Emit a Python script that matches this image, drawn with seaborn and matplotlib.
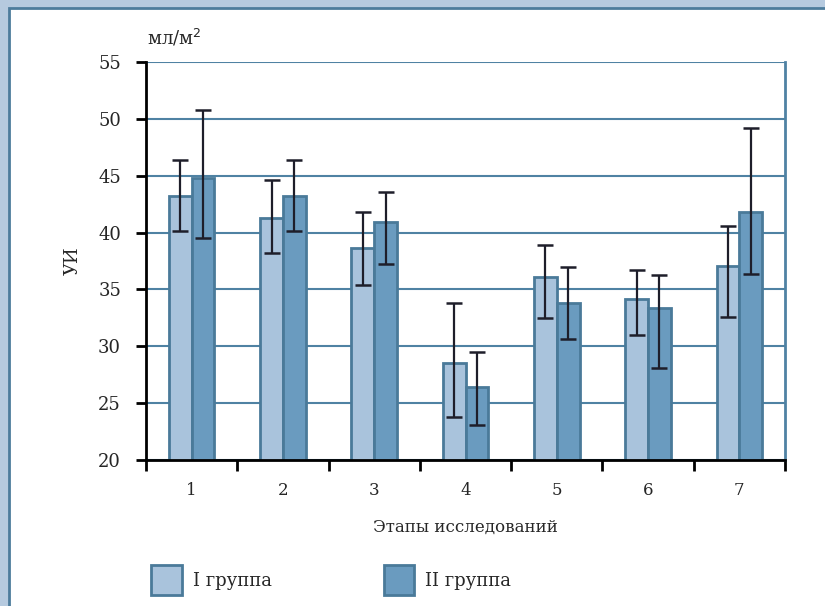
import numpy as np
import pandas as pd
import matplotlib
matplotlib.use("Agg")
import matplotlib.pyplot as plt
import matplotlib.patches as mpatches
import seaborn as sns

# данные
stages = ["1", "2", "3", "4", "5", "6", "7"]
groups = ["I группа", "II группа"]
g1_mean = [43.2, 41.3, 38.6, 28.5, 36.1, 34.2, 37.1]
g1_low = [40.1, 38.2, 35.4, 23.8, 32.5, 31.0, 32.6]
g1_high = [46.4, 44.6, 41.8, 33.8, 38.9, 36.7, 40.6]
g2_mean = [44.8, 43.2, 40.9, 26.4, 33.8, 33.4, 41.8]
g2_low = [39.5, 40.1, 37.2, 23.1, 30.6, 28.1, 36.4]
g2_high = [50.8, 46.4, 43.6, 29.5, 37.0, 36.3, 49.2]

df = pd.DataFrame({
    "Этап": stages * 2,
    "Группа": [groups[0]] * 7 + [groups[1]] * 7,
    "УИ": g1_mean + g2_mean,
})

sns.set_style("white")
plt.rcParams["font.family"] = ["DejaVu Serif"]

light_bg = "#b6cadf"
frame_col = "#4d7c9c"
bar_cols = ["#a9c3dc", "#6a9bbf"]
edge_col = "#4a7a99"
grid_col = "#4f82a3"

fig = plt.figure(figsize=(8.25, 6.06), dpi=100)
fig.patch.set_facecolor(light_bg)
# белая панель с рамкой
fig.patches.append(mpatches.Rectangle((9 / 825, -0.05), 1.0, 1 - 8 / 606 + 0.05,
                                      transform=fig.transFigure, facecolor="white",
                                      edgecolor=frame_col, linewidth=2, zorder=-10))
ax = fig.add_axes([146 / 825, 1 - 460 / 606, (785 - 146) / 825, (460 - 62) / 606])
ax.patch.set_alpha(0)

sns.barplot(data=df, x="Этап", y="УИ", hue="Группа", palette=bar_cols, saturation=1,
            errorbar=None, width=0.5, gap=0, edgecolor=edge_col, linewidth=2,
            ax=ax, zorder=2)

# планки погрешностей
for cont, mean, lo, hi in zip(ax.containers, [g1_mean, g2_mean],
                              [g1_low, g2_low], [g1_high, g2_high]):
    xs = [b.get_x() + b.get_width() / 2 for b in cont]
    m = np.array(mean)
    yerr = [m - np.array(lo), np.array(hi) - m]
    ax.errorbar(xs, m, yerr=yerr, fmt="none", ecolor="#1e1e2a",
                elinewidth=1.6, capsize=6, capthick=1.8, zorder=3)

ax.set_ylim(20, 55)
ax.set_xlim(-0.5, 6.5)
ax.set_yticks(range(20, 56, 5))
ax.yaxis.grid(True, color=grid_col, linewidth=1.5)
ax.set_axisbelow(True)

ax.set_xticks(np.arange(-0.5, 7, 1), minor=True)
ax.tick_params(axis="x", which="major", bottom=True, length=0, pad=16, labelsize=12)
ax.tick_params(axis="x", which="minor", bottom=True, length=8, width=2, color="black",
               direction="out")
ax.tick_params(axis="y", left=True, length=7, width=2, color="black", direction="out",
               pad=11, labelsize=13)

for s in ["left", "bottom"]:
    ax.spines[s].set_color("black")
    ax.spines[s].set_linewidth(2)
ax.spines["right"].set_color(grid_col)
ax.spines["right"].set_linewidth(2)
ax.spines["top"].set_visible(False)

ax.set_xlabel("Этапы исследований", fontsize=12, labelpad=14)
ax.set_ylabel("УИ", fontsize=13, labelpad=12)
fig.text(147 / 825, 1 - 38 / 606, "мл/м$^2$", fontsize=13, ha="left", va="center")

# легенда внизу
handles = [mpatches.Patch(facecolor=c, edgecolor=edge_col, linewidth=2) for c in bar_cols]
ax.legend_.remove()
fig.legend(handles, groups, loc="center left", bbox_to_anchor=(135 / 825, 1 - 580 / 606),
           ncol=2, frameon=False, fontsize=13, handlelength=1.7, handleheight=2.2,
           handletextpad=0.6, columnspacing=6.2)

fig.savefig("out.png", dpi=100, facecolor=fig.get_facecolor())
